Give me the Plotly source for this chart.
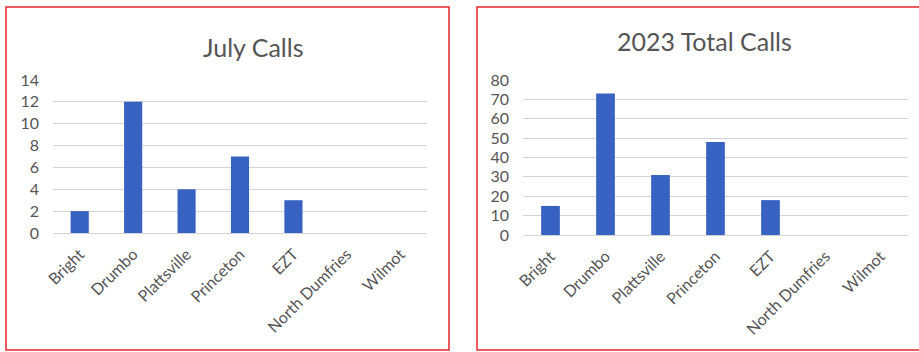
import plotly.graph_objects as go

categories = ["Bright", "Drumbo", "Plattsville", "Princeton", "EZT", "North Dumfries", "Wilmot"]
july_calls = [2, 12, 4, 7, 3, 0, 0]
total_2023_calls = [15, 73, 31, 48, 18, 0, 0]
july_ticks = [0, 2, 4, 6, 8, 10, 12, 14]
total_ticks = [0, 10, 20, 30, 40, 50, 60, 70, 80]

W, H = 919, 352
BAR = "#3862c2"
TXT = "#555555"
GRID = "#d3d3d3"
FONT = "Lato, Open Sans, sans-serif"

fig = go.Figure()
fig.add_trace(go.Bar(x=categories, y=july_calls, marker_color=BAR, width=0.34,
                     xaxis="x", yaxis="y", showlegend=False))
fig.add_trace(go.Bar(x=categories, y=total_2023_calls, marker_color=BAR, width=0.34,
                     xaxis="x2", yaxis="y2", showlegend=False))

def px(x):
    return x / W

def py(y):
    return 1 - y / H

axis_common = dict(showgrid=False, showline=False, ticks="", tickangle=-45, automargin=False,
                   ticklabelstandoff=8,
                   tickfont=dict(family=FONT, size=16, color=TXT), fixedrange=True)
yaxis_common = dict(showgrid=True, gridcolor=GRID, gridwidth=1, zeroline=True, automargin=False,
                    zerolinecolor=GRID, showline=False, ticks="", ticklabelstandoff=13,
                    tickfont=dict(family=FONT, size=16, color=TXT), fixedrange=True)

fig.update_layout(
    template="none",
    width=W, height=H,
    margin=dict(l=0, r=0, t=0, b=0, pad=0, autoexpand=False),
    paper_bgcolor="white", plot_bgcolor="white",
    xaxis=dict(domain=[px(53), px(427)], anchor="y", **axis_common),
    yaxis=dict(domain=[py(233), py(80)], anchor="x", range=[0, 14],
               tickvals=july_ticks, **yaxis_common),
    xaxis2=dict(domain=[px(523), px(908)], anchor="y2", **axis_common),
    yaxis2=dict(domain=[py(235), py(80)], anchor="x2", range=[0, 80],
                tickvals=total_ticks, **yaxis_common),
    annotations=[
        dict(text="July Calls", x=px(253), y=py(47), xref="paper", yref="paper",
             xanchor="center", yanchor="middle",
             showarrow=False, font=dict(family=FONT, size=25, color=TXT)),
        dict(text="2023 Total Calls", x=px(704), y=py(41), xref="paper", yref="paper",
             xanchor="center", yanchor="middle",
             showarrow=False, font=dict(family=FONT, size=25, color=TXT)),
    ],
    shapes=[
        dict(type="rect", xref="paper", yref="paper", x0=px(6), x1=px(449),
             y0=py(350), y1=py(7), line=dict(color="#e8262b", width=1.5)),
        dict(type="rect", xref="paper", yref="paper", x0=px(477), x1=px(922),
             y0=py(350), y1=py(7), line=dict(color="#e8262b", width=1.5)),
    ],
)

fig.write_html(
    "out.html",
    config={"displayModeBar": False, "staticPlot": True},
    post_script=("document.documentElement.style.margin='0';"
                 "document.documentElement.style.overflow='hidden';"
                 "document.body.style.margin='0';"
                 "document.body.style.overflow='hidden';"),
)
